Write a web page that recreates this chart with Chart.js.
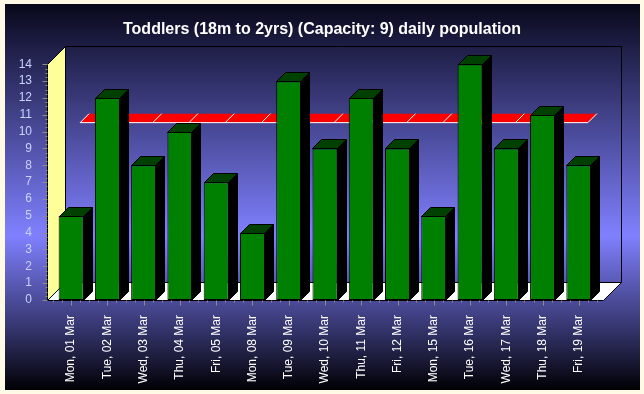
<!DOCTYPE html>
<html>
<head>
<meta charset="utf-8">
<script src="https://cdn.jsdelivr.net/npm/chart.js@4.4.1/dist/chart.umd.min.js"></script>
<style>
	body { margin: 0; background: #fffae6; }
	canvas { display: block; }
</style>
</head>
<body>
<canvas id="toddlersChart" width="644" height="394"></canvas>
<script>
// data
const days = ['Mon, 01 Mar', 'Tue, 02 Mar', 'Wed, 03 Mar', 'Thu, 04 Mar', 'Fri, 05 Mar',
	'Mon, 08 Mar', 'Tue, 09 Mar', 'Wed, 10 Mar', 'Thu, 11 Mar', 'Fri, 12 Mar',
	'Mon, 15 Mar', 'Tue, 16 Mar', 'Wed, 17 Mar', 'Thu, 18 Mar', 'Fri, 19 Mar'];
const population = [5, 12, 8, 10, 7, 4, 13, 9, 12, 9, 5, 14, 9, 11, 8];
const limitLine = [10, 10, 10, 10, 10, 10, 10, 10, 10, 10, 10, 10, 10, 10, 10];
const yMin = 0;
const yMax = 14;
const chartTitle = 'Toddlers (18m to 2yrs) (Capacity: 9) daily population';

const barDepth = 9;
const wallDepth = 18;
const edgePad = 6;

function poly(ctx, pts) {
	ctx.beginPath();
	ctx.moveTo(pts[0][0], pts[0][1]);
	for (let i = 1; i < pts.length; i++) ctx.lineTo(pts[i][0], pts[i][1]);
	ctx.closePath();
}

const threeD = {
	id: 'threeD',
	beforeDraw(chart) {
		const ctx = chart.ctx;
		ctx.save();
		ctx.fillStyle = '#fffae6';
		ctx.fillRect(0, 0, chart.width, chart.height);
		let g = ctx.createLinearGradient(0, 4, 0, 390);
		g.addColorStop(0, '#08081a');
		g.addColorStop(0.12, '#20204a');
		g.addColorStop(0.6, '#8080ff');
		g.addColorStop(0.84, '#35356e');
		g.addColorStop(1, '#000004');
		ctx.fillStyle = g;
		ctx.fillRect(5, 4, 635, 386);
		ctx.restore();
	},
	beforeDatasetsDraw(chart) {
		const ctx = chart.ctx;
		const a = chart.chartArea;
		const x = chart.scales.x, y = chart.scales.y;
		const D = wallDepth;
		const fl = Math.round(a.left - edgePad) + 0.5;
		const fr = Math.round(a.right + edgePad) + 0.5;
		const fb = Math.round(a.bottom) + 0.5;
		const ft = Math.round(a.top) + 0.5;
		ctx.save();
		ctx.lineWidth = 1;
		ctx.strokeStyle = '#000';

		// back wall frame
		ctx.beginPath();
		ctx.moveTo(fl + D, ft - D);
		ctx.lineTo(fr + D, ft - D);
		ctx.lineTo(fr + D, fb - D);
		ctx.stroke();

		// floor
		poly(ctx, [[fl, fb], [fr, fb], [fr + D, fb - D], [fl + D, fb - D]]);
		ctx.fillStyle = '#ffffff';
		ctx.fill();
		ctx.stroke();

		// left wall
		poly(ctx, [[fl, fb], [fl, ft], [fl + D, ft - D], [fl + D, fb - D]]);
		ctx.fillStyle = '#ffff99';
		ctx.fill();
		ctx.stroke();

		// red band, back half of the depth
		const z1 = barDepth, z2 = wallDepth;
		for (let i = 0; i < limitLine.length - 1; i++) {
			let x0 = x.getPixelForValue(i), x1 = x.getPixelForValue(i + 1);
			let y0 = y.getPixelForValue(limitLine[i]), y1 = y.getPixelForValue(limitLine[i + 1]);
			poly(ctx, [[x0 + z1, y0 - z1], [x1 + z1, y1 - z1], [x1 + z2, y1 - z2], [x0 + z2, y0 - z2]]);
			ctx.fillStyle = '#ff0000';
			ctx.fill();
		}
		ctx.strokeStyle = '#ffffff';
		ctx.beginPath();
		for (let i = 0; i < limitLine.length; i++) {
			let xi = x.getPixelForValue(i), yi = y.getPixelForValue(limitLine[i]);
			if (i === 0) ctx.moveTo(xi + z1, yi - z1); else ctx.lineTo(xi + z1, yi - z1);
		}
		ctx.stroke();
		for (let i = 0; i < limitLine.length; i++) {
			let xi = x.getPixelForValue(i), yi = y.getPixelForValue(limitLine[i]);
			ctx.beginPath();
			ctx.moveTo(xi + z1, yi - z1);
			ctx.lineTo(xi + z2, yi - z2);
			ctx.stroke();
		}

		// axis ticks
		ctx.strokeStyle = '#8c8c8c';
		ctx.beginPath();
		for (let v = yMin; v <= yMax + 0.001; v += 0.25) {
			let py = Math.round(y.getPixelForValue(v)) + 0.5;
			let len = Math.abs(v - Math.round(v)) < 0.001 ? 5 : 2;
			ctx.moveTo(fl - len, py);
			ctx.lineTo(fl, py);
		}
		const cw = (a.right - a.left) / days.length;
		for (let k = 0; k <= days.length * 4; k++) {
			let px = Math.round(a.left + k * cw / 4) + 0.5;
			let len = k % 4 === 2 ? 5 : 2;
			ctx.moveTo(px, fb);
			ctx.lineTo(px, fb + len);
		}
		ctx.stroke();
		ctx.restore();
	},
	afterDatasetsDraw(chart) {
		const ctx = chart.ctx;
		const d = barDepth;
		ctx.save();
		ctx.lineWidth = 1;
		ctx.strokeStyle = '#000';
		chart.getDatasetMeta(0).data.forEach(function(bar) {
			let xl = Math.round(bar.x - bar.width / 2) + 0.5;
			let xr = Math.round(bar.x + bar.width / 2) - 0.5;
			let yt = Math.round(bar.y) + 0.5;
			let yb = Math.round(bar.base) + 0.5;
			poly(ctx, [[xr, yt], [xr + d, yt - d], [xr + d, yb - d], [xr, yb]]);
			ctx.fillStyle = '#000000';
			ctx.fill();
			ctx.stroke();
			poly(ctx, [[xl, yt], [xl + d, yt - d], [xr + d, yt - d], [xr, yt]]);
			ctx.fillStyle = '#004000';
			ctx.fill();
			ctx.stroke();
		});
		ctx.restore();
	}
};

new Chart(document.getElementById('toddlersChart'), {
	type: 'bar',
	data: {
		labels: days,
		datasets: [{
			data: population,
			backgroundColor: '#008000',
			borderColor: '#000000',
			borderWidth: 1,
			borderSkipped: false,
			barPercentage: 0.69,
			categoryPercentage: 1
		}]
	},
	options: {
		responsive: false,
		animation: false,
		devicePixelRatio: 1,
		layout: { padding: 0 },
		plugins: {
			legend: { display: false },
			tooltip: { enabled: false },
			title: {
				display: true,
				text: chartTitle,
				color: '#ffffff',
				font: { family: '"Liberation Sans", Arial, sans-serif', size: 16, weight: 'bold' },
				padding: { top: 20, bottom: 25.1 }
			}
		},
		scales: {
			x: {
				grid: { display: false },
				border: { display: false },
				ticks: {
					color: '#ffffff',
					font: { family: '"Liberation Sans", Arial, sans-serif', size: 12 },
					minRotation: 90,
					maxRotation: 90,
					autoSkip: false,
					padding: 7
				},
				afterFit: function(scale) { scale.height = 94; }
			},
			y: {
				min: yMin,
				max: yMax,
				grid: { display: false },
				border: { display: false },
				ticks: {
					stepSize: 1,
					autoSkip: false,
					color: '#c8d4ff',
					font: { family: '"Liberation Sans", Arial, sans-serif', size: 12 },
					padding: 13
				},
				afterFit: function(scale) { scale.width = 53; }
			},
			// empty right axis, keeps room for the 3D depth
			yRight: {
				position: 'right',
				min: yMin,
				max: yMax,
				grid: { display: false },
				border: { display: false },
				ticks: { display: false },
				afterFit: function(scale) { scale.width = 47; }
			}
		}
	},
	plugins: [threeD]
});
</script>
</body>
</html>
